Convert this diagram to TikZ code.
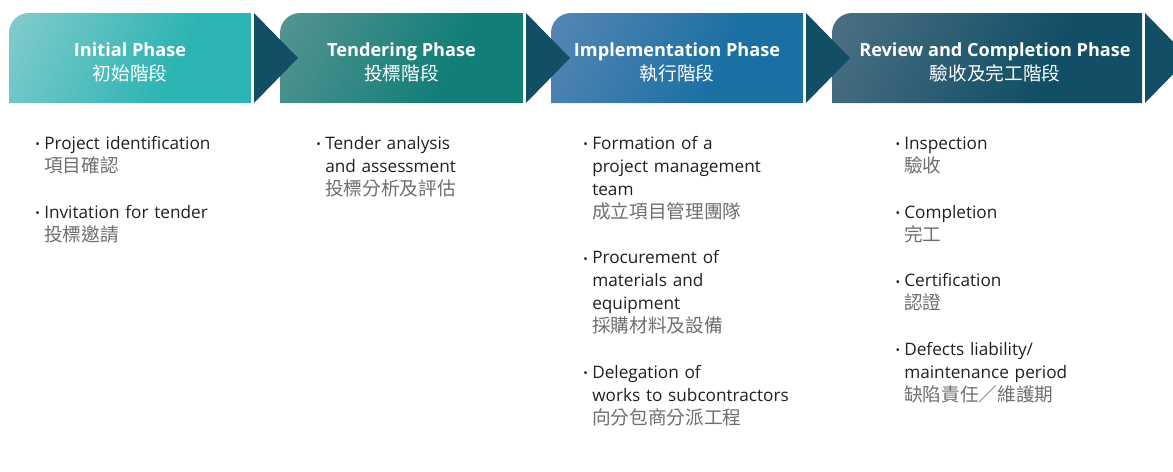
\documentclass[tikz,border=0pt]{standalone}
\usepackage{fontspec}
\setmainfont{Open Sans}
\newfontfamily\cjk{Noto Sans CJK TC}
\usetikzlibrary{calc,backgrounds}

% phase colours (light / dark end of each box)
\definecolor{initL}{HTML}{A3D5D6}
\definecolor{initD}{HTML}{2DB3B3}
\definecolor{tendL}{HTML}{6E9C9B}
\definecolor{tendD}{HTML}{137E78}
\definecolor{implL}{HTML}{6C8FBA}
\definecolor{implD}{HTML}{1A6FA3}
\definecolor{revL}{HTML}{627C90}
\definecolor{revD}{HTML}{124F66}
\definecolor{chevron}{HTML}{124F66}
\definecolor{engtext}{HTML}{231F20}
\definecolor{zhgray}{HTML}{6D6E71}
\colorlet{phL}{white}
\colorlet{phD}{black}

\pgfdeclarehorizontalshading[phL,phD]{phaseshade}{100bp}{color(0bp)=(phL); color(62bp)=(phD); color(100bp)=(phD)}

\newcommand{\zh}[1]{{\cjk\fontsize{14}{17.2}\selectfont\color{zhgray}#1}}
\newcommand{\zhhead}[1]{{\mdseries\cjk\fontsize{14}{18}\selectfont #1}}
\newcommand{\bul}{\noindent\strut\llap{\raisebox{0.6pt}{\fontsize{9}{9}\selectfont\textbullet}\hspace{3.2pt}}}

\tikzset{
  phasebox/.style={minimum height=67.5pt, inner sep=0pt, outer sep=0pt},
  phasefill/.style 2 args={/utils/exec={\colorlet{phL}{#1}\colorlet{phD}{#2}}, shading=phaseshade, shading angle=-25},
  head/.style={anchor=north, inner sep=0pt, align=center, text=white, font=\fontsize{13.6}{18}\selectfont\bfseries},
  steps/.style={anchor=north west, inner sep=0pt, text width=250pt, align=left, text=engtext, font=\fontsize{12.9}{17.2}\selectfont},
  tip/.style={fill=chevron}
}

\begin{document}
\begin{tikzpicture}[x=0.75pt, y=-0.75pt]
\useasboundingbox (0,0) rectangle (1173,471);

% header boxes
\node[phasebox, minimum width=181.5pt] (initBox) at (130,58) {};
\node[phasebox, minimum width=182.25pt] (tendBox) at (401.5,58) {};
\node[phasebox, minimum width=189pt] (implBox) at (677,58) {};
\node[phasebox, minimum width=232.5pt] (revBox) at (987,58) {};

\begin{scope}[on background layer]
\shade[phasefill={initL}{initD}] (initBox.south west) -- ($(initBox.north west)+(0,20)$) arc[start angle=180, end angle=90, radius=15pt] -- (initBox.north east) -- (initBox.south east) -- cycle;
\shade[phasefill={tendL}{tendD}] (tendBox.south west) -- ($(tendBox.north west)+(0,20)$) arc[start angle=180, end angle=90, radius=15pt] -- (tendBox.north east) -- (tendBox.south east) -- cycle;
\shade[phasefill={implL}{implD}] (implBox.south west) -- ($(implBox.north west)+(0,20)$) arc[start angle=180, end angle=90, radius=15pt] -- (implBox.north east) -- (implBox.south east) -- cycle;
\shade[phasefill={revL}{revD}] (revBox.south west) -- ($(revBox.north west)+(0,20)$) arc[start angle=180, end angle=90, radius=15pt] -- (revBox.north east) -- (revBox.south east) -- cycle;
\end{scope}

% chevrons
\foreach \b in {initBox,tendBox,implBox,revBox}
  \fill[tip] ($(\b.north east)+(3,0)$) -- ($(\b.south east)+(3,0)$) -- ($(\b.east)+(47,0)$) -- cycle;

% headings
\node[head] (initHead) at ($(initBox.north)+(0,26)$) {\strut Initial Phase\\ \zhhead{初始階段}};
\node[head] (tendHead) at ($(tendBox.north)+(0,26)$) {\strut Tendering Phase\\ \zhhead{投標階段}};
\node[head] (implHead) at ($(implBox.north)+(0,26)$) {\strut Implementation Phase\\ \zhhead{執行階段}};
\node[head] (revHead) at ($(revBox.north)+(8,26)$) {\strut Review and Completion Phase\\ \zhhead{驗收及完工階段}};

% tasks of each phase
\node[steps] (initList) at (44,133) {\bul Project identification\\ \zh{項目確認}\\[17.2pt]
  \bul Invitation for tender\\ \zh{投標邀請}};
\node[steps] (tendList) at (325,133) {\bul Tender analysis\\ and assessment\\ \zh{投標分析及評估}};
\node[steps] (implList) at (592,133) {\bul Formation of a\\ project management\\ team\\ \zh{成立項目管理團隊}\\[17.2pt]
  \bul Procurement of\\ materials and\\ equipment\\ \zh{採購材料及設備}\\[17.2pt]
  \bul Delegation of\\ works to subcontractors\\ \zh{向分包商分派工程}};
\node[steps] (revList) at (904,133) {\bul Inspection\\ \zh{驗收}\\[17.2pt]
  \bul Completion\\ \zh{完工}\\[17.2pt]
  \bul Certification\\ \zh{認證}\\[17.2pt]
  \bul Defects liability/\\ maintenance period\\ \zh{缺陷責任／維護期}};
\end{tikzpicture}
\end{document}
